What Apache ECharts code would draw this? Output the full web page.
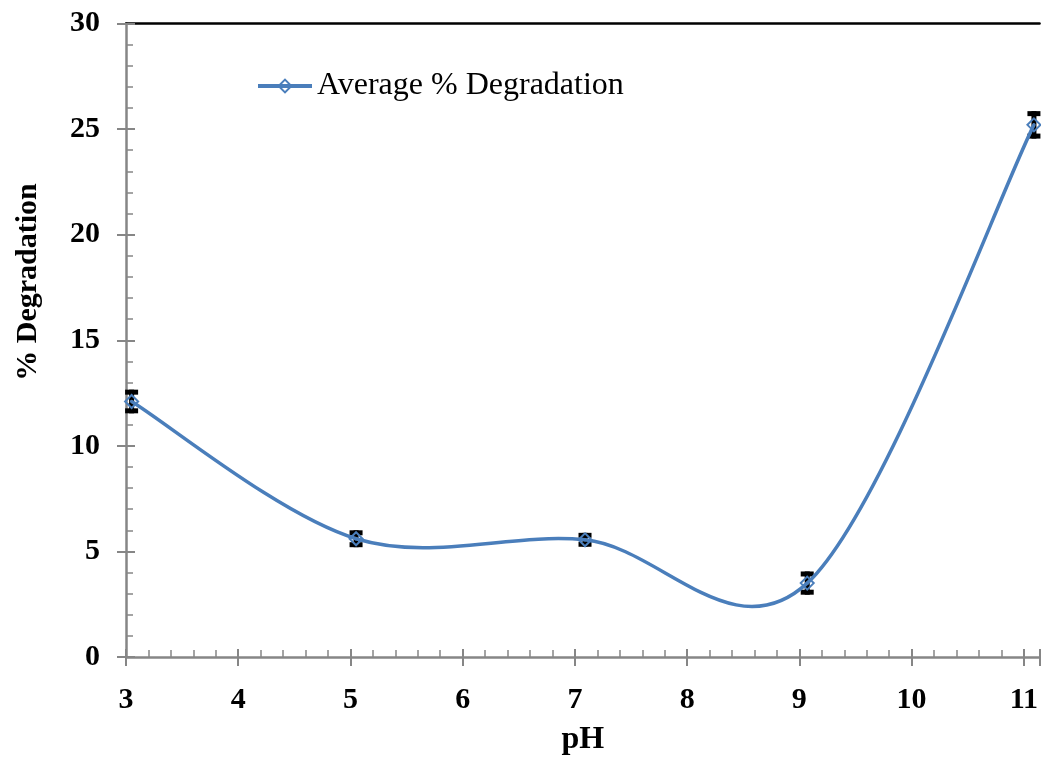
<!DOCTYPE html>
<html><head><meta charset="utf-8">
<script src="https://cdn.jsdelivr.net/npm/echarts@6/dist/echarts.min.js"></script>
<style>html,body{margin:0;padding:0;background:#fff}#c{width:1041px;height:761px}</style>
</head><body><div id="c"></div>
<script>
const seriesName = 'Average % Degradation';
const phValues = [3.05, 5.05, 7.09, 9.07, 11.09];
const avgDegradation = [12.1, 5.6, 5.55, 3.5, 25.2];
const errorValues = [0.56, 0.4, 0.33, 0.55, 0.65];
const xName = 'pH';
const yName = '% Degradation';

const FONT = "'Liberation Serif', 'Times New Roman', serif";
const AXIS_GRAY = '#868686';
const BLUE = '#4A7EBB';

const chart = echarts.init(document.getElementById('c'));
const lineData = phValues.map((x, i) => [x, avgDegradation[i]]);
const errData = phValues.map((x, i) => [x, avgDegradation[i] - errorValues[i], avgDegradation[i] + errorValues[i]]);

const xCommon = {type: 'value', min: 3, max: 11.14, interval: 1, gridIndex: 0};
const yCommon = {type: 'value', min: 0, max: 30, interval: 5, gridIndex: 0};

// Smooth curve (Catmull-Rom style, like the spreadsheet's smoothed line) drawn through the axis scales
function renderCurve(params, api) {
  const i = params.dataIndex;
  if (i >= lineData.length - 1) return null;
  const P = lineData.map(d => api.coord(d));
  const p0 = P[Math.max(i - 1, 0)], p1 = P[i], p2 = P[i + 1], p3 = P[Math.min(i + 2, P.length - 1)];
  const k = 1 / 6;
  return {
    type: 'bezierCurve',
    shape: {
      x1: p1[0], y1: p1[1], x2: p2[0], y2: p2[1],
      cpx1: p1[0] + (p2[0] - p0[0]) * k, cpy1: p1[1] + (p2[1] - p0[1]) * k,
      cpx2: p2[0] - (p3[0] - p1[0]) * k, cpy2: p2[1] - (p3[1] - p1[1]) * k
    },
    style: {stroke: BLUE, lineWidth: 3.5, fill: null, lineCap: 'round'}
  };
}

chart.setOption({
  animation: false,
  backgroundColor: '#fff',
  grid: {left: 126, right: 0, top: 23.5, bottom: 97, containLabel: false},
  legend: {
    data: [seriesName], left: 251, top: 65, itemWidth: 54, itemHeight: 16, itemGap: 4,
    lineStyle: {opacity: 1, width: 4, color: BLUE},
    textStyle: {fontFamily: FONT, fontSize: 32, color: '#000'}
  },
  xAxis: [
    Object.assign({}, xCommon, {
      position: 'bottom',
      axisLine: {show: true, onZero: false, lineStyle: {color: AXIS_GRAY, width: 2.5}},
      axisTick: {show: true, inside: true, length: 8, lineStyle: {color: AXIS_GRAY, width: 2}},
      minorTick: {show: true, splitNumber: 5, length: 7, lineStyle: {color: AXIS_GRAY, width: 1.5}},
      splitLine: {show: false},
      axisLabel: {show: true, showMaxLabel: false, margin: 28, fontFamily: FONT, fontWeight: 'bold', fontSize: 30, color: '#000'},
      name: xName, nameLocation: 'middle', nameGap: 67,
      nameTextStyle: {fontFamily: FONT, fontWeight: 'bold', fontSize: 32, color: '#000'}
    }),
    Object.assign({}, xCommon, {
      position: 'bottom',
      axisLine: {show: false, onZero: false},
      axisTick: {show: true, inside: false, length: 9, lineStyle: {color: AXIS_GRAY, width: 2}},
      axisLabel: {show: false}, splitLine: {show: false}
    }),
    Object.assign({}, xCommon, {
      position: 'top',
      axisLine: {show: true, onZero: false, lineStyle: {color: '#000', width: 2.5}},
      axisTick: {show: false}, axisLabel: {show: false}, splitLine: {show: false}
    })
  ],
  yAxis: [
    Object.assign({}, yCommon, {
      position: 'left',
      axisLine: {show: true, onZero: false, lineStyle: {color: AXIS_GRAY, width: 2.5}},
      axisTick: {show: true, inside: true, length: 9, lineStyle: {color: AXIS_GRAY, width: 2}},
      minorTick: {show: true, splitNumber: 5, length: 7, lineStyle: {color: AXIS_GRAY, width: 1.5}},
      splitLine: {show: false},
      axisLabel: {show: true, margin: 26, padding: [6, 0, 0, 0], fontFamily: FONT, fontWeight: 'bold', fontSize: 30, color: '#000'}
    }),
    Object.assign({}, yCommon, {
      position: 'left',
      axisLine: {show: false, onZero: false},
      axisTick: {show: true, inside: false, length: 9, lineStyle: {color: AXIS_GRAY, width: 2}},
      axisLabel: {show: false}, splitLine: {show: false}
    })
  ],
  graphic: [{
    type: 'text', x: 28, y: 282, rotation: Math.PI / 2,
    style: {text: yName, fontFamily: FONT, fontWeight: 'bold', fontSize: 30, fill: '#000', align: 'center', verticalAlign: 'middle'}
  }],
  series: [
    {
      type: 'custom', name: 'err', xAxisIndex: 0, yAxisIndex: 0, z: 1, clip: false,
      data: errData,
      encode: {x: 0, y: [1, 2]},
      renderItem: function (params, api) {
        const lo = api.coord([api.value(0), api.value(1)]);
        const hi = api.coord([api.value(0), api.value(2)]);
        const hw = 6.5;
        const st = {stroke: '#000', lineWidth: 5};
        return {type: 'group', children: [
          {type: 'line', shape: {x1: lo[0], y1: lo[1], x2: hi[0], y2: hi[1]}, style: st},
          {type: 'line', shape: {x1: lo[0] - hw, y1: lo[1] - 2.5, x2: lo[0] + hw, y2: lo[1] - 2.5}, style: st},
          {type: 'line', shape: {x1: hi[0] - hw, y1: hi[1] + 2.5, x2: hi[0] + hw, y2: hi[1] + 2.5}, style: st}
        ]};
      }
    },
    {
      type: 'custom', name: 'curve', xAxisIndex: 0, yAxisIndex: 0, z: 2, clip: false,
      data: lineData, encode: {x: 0, y: 1},
      renderItem: renderCurve
    },
    {
      type: 'line', name: seriesName, xAxisIndex: 0, yAxisIndex: 0, z: 3, clip: false,
      data: lineData,
      symbol: 'diamond', symbolSize: 13, showSymbol: true,
      lineStyle: {color: BLUE, width: 3.5, opacity: 0},
      itemStyle: {color: 'rgba(255,255,255,0)', borderColor: BLUE, borderWidth: 2}
    }
  ]
});
</script></body></html>
